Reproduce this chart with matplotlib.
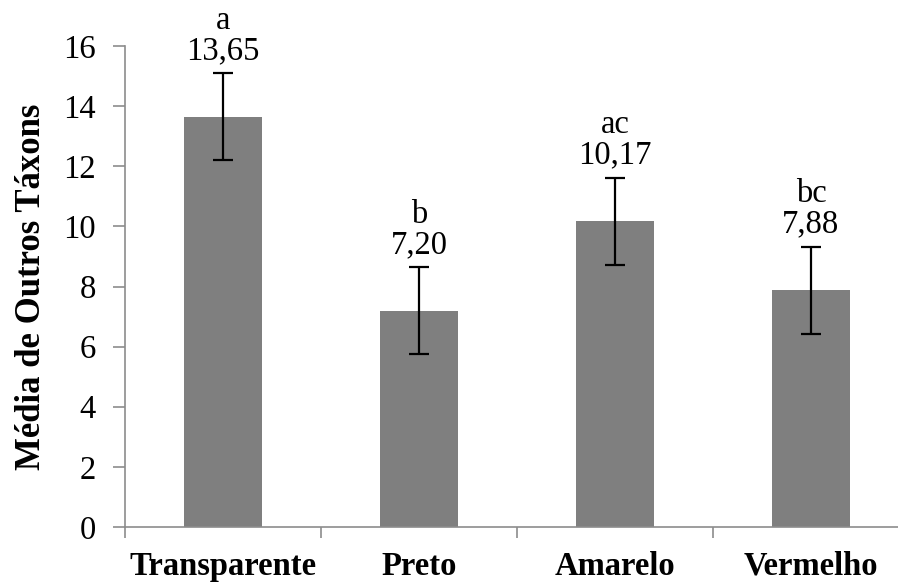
import matplotlib
matplotlib.use('Agg')
import matplotlib.pyplot as plt

# data
categories = ['Transparente', 'Preto', 'Amarelo', 'Vermelho']
means = [13.65, 7.20, 10.17, 7.88]
errors = [1.45, 1.45, 1.45, 1.45]
letters = ['a', 'b', 'ac', 'bc']
value_labels = ['13,65', '7,20', '10,17', '7,88']

plt.rcParams['font.family'] = ['Liberation Serif', 'DejaVu Serif']

fig = plt.figure(figsize=(8.98, 5.85), dpi=100)
ax = fig.add_axes([125 / 898, 1 - 527 / 585, 784 / 898, (527 - 46) / 585])

x = list(range(len(categories)))
ax.bar(x, means, width=0.40, color='#7f7f7f', zorder=2)
ax.errorbar(x, means, yerr=errors, fmt='none', ecolor='black',
            elinewidth=1.6, capsize=7, capthick=1.6, zorder=3)

for i in x:
    ax.annotate(letters[i] + '\n' + value_labels[i],
                xy=(i, means[i] + errors[i]), xytext=(0, 5),
                textcoords='offset points', ha='center', va='bottom',
                fontsize=23.5, linespacing=1.0, color='black')

ax.set_xlim(-0.5, len(categories) - 0.5)
ax.set_ylim(0, 16)
ax.set_yticks(range(0, 17, 2))
ax.tick_params(axis='y', labelsize=23.5, length=9, width=1.2,
               color='#8c8c8c', pad=12)

# category borders as ticks, names at bar centres
ax.set_xticks([i - 0.5 for i in range(len(categories) + 1)])
ax.set_xticklabels([])
ax.tick_params(axis='x', which='major', length=8, width=1.2,
               color='#8c8c8c', direction='out')
ax.set_xticks(x, minor=True)
ax.set_xticklabels(categories, minor=True, fontsize=23.5, fontweight='bold')
ax.tick_params(axis='x', which='minor', length=0, pad=17)

for side in ['top', 'right']:
    ax.spines[side].set_visible(False)
for side in ['left', 'bottom']:
    ax.spines[side].set_color('#8c8c8c')
    ax.spines[side].set_linewidth(1.2)

ax.set_ylabel('Média de Outros Táxons', fontsize=25, fontweight='bold',
              labelpad=11)

fig.savefig('out.png', dpi=100)
